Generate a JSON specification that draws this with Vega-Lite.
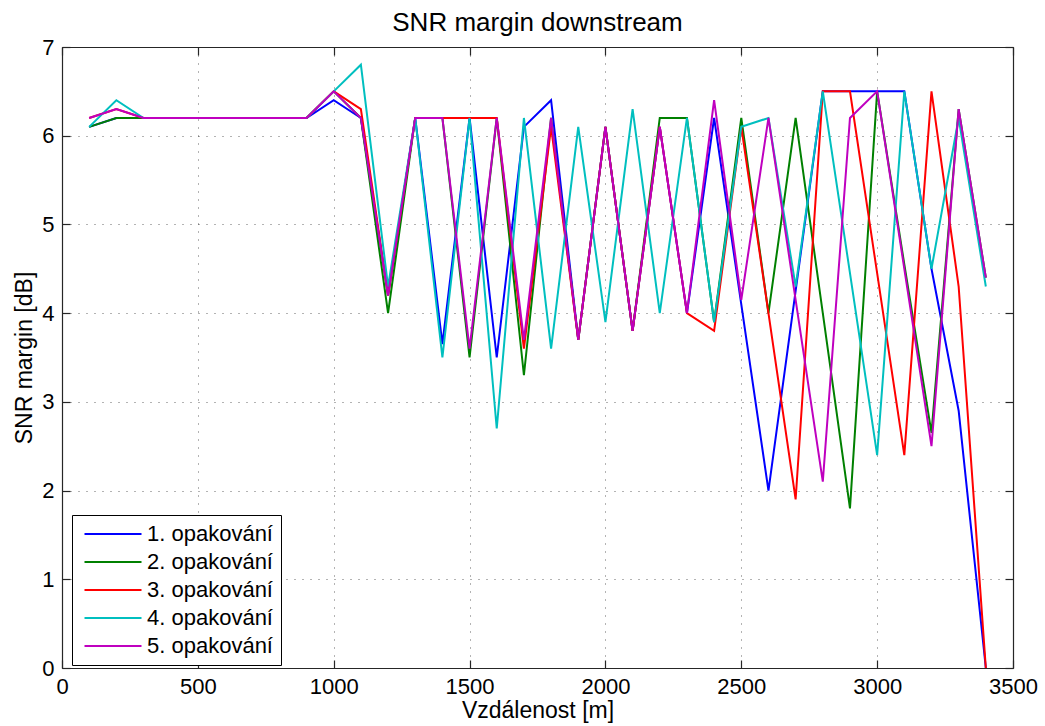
{
  "$schema": "https://vega.github.io/schema/vega-lite/v6.json",
  "autosize": "none",
  "width": 951,
  "height": 621,
  "padding": {"left": 62, "top": 47, "right": 32, "bottom": 58},
  "background": "white",
  "title": {"text": "SNR margin downstream", "fontSize": 26, "font": "Liberation Sans", "fontWeight": "normal", "color": "#000", "anchor": "middle", "frame": "group", "baseline": "alphabetic", "offset": 0, "dy": 21},
  "config": {
    "view": {"stroke": null},
    "axis": {
      "domainColor": "#262626", "domainWidth": 1.2,
      "tickColor": "#262626", "tickSize": -8, "tickWidth": 1.2,
      "labelFont": "Liberation Sans", "labelFontSize": 22, "labelColor": "#000", "labelPadding": 16,
      "labelFlush": false, "labelOverlap": false,
      "titleFont": "Liberation Sans", "titleFontSize": 23, "titleFontWeight": "normal", "titleColor": "#000",
      "gridColor": "#000", "gridDash": [1, 7], "gridOpacity": 0.6, "gridWidth": 1
    }
  },
  "data": {"values": [
    {"s":"1. opakování","x":100,"y":6.1},{"s":"1. opakování","x":200,"y":6.2},{"s":"1. opakování","x":300,"y":6.2},{"s":"1. opakování","x":400,"y":6.2},{"s":"1. opakování","x":500,"y":6.2},{"s":"1. opakování","x":600,"y":6.2},{"s":"1. opakování","x":700,"y":6.2},{"s":"1. opakování","x":800,"y":6.2},{"s":"1. opakování","x":900,"y":6.2},{"s":"1. opakování","x":1000,"y":6.4},{"s":"1. opakování","x":1100,"y":6.2},{"s":"1. opakování","x":1200,"y":4.2},{"s":"1. opakování","x":1300,"y":6.2},{"s":"1. opakování","x":1400,"y":3.65},{"s":"1. opakování","x":1500,"y":6.2},{"s":"1. opakování","x":1600,"y":3.5},{"s":"1. opakování","x":1700,"y":6.1},{"s":"1. opakování","x":1800,"y":6.4},{"s":"1. opakování","x":1900,"y":3.7},{"s":"1. opakování","x":2000,"y":6.1},{"s":"1. opakování","x":2100,"y":3.8},{"s":"1. opakování","x":2200,"y":6.1},{"s":"1. opakování","x":2300,"y":4.0},{"s":"1. opakování","x":2400,"y":6.2},{"s":"1. opakování","x":2500,"y":4.1},{"s":"1. opakování","x":2600,"y":2.0},{"s":"1. opakování","x":2700,"y":4.25},{"s":"1. opakování","x":2800,"y":6.5},{"s":"1. opakování","x":2900,"y":6.5},{"s":"1. opakování","x":3000,"y":6.5},{"s":"1. opakování","x":3100,"y":6.5},{"s":"1. opakování","x":3200,"y":4.5},{"s":"1. opakování","x":3300,"y":2.9},{"s":"1. opakování","x":3400,"y":0},
    {"s":"2. opakování","x":100,"y":6.1},{"s":"2. opakování","x":200,"y":6.2},{"s":"2. opakování","x":300,"y":6.2},{"s":"2. opakování","x":400,"y":6.2},{"s":"2. opakování","x":500,"y":6.2},{"s":"2. opakování","x":600,"y":6.2},{"s":"2. opakování","x":700,"y":6.2},{"s":"2. opakování","x":800,"y":6.2},{"s":"2. opakování","x":900,"y":6.2},{"s":"2. opakování","x":1000,"y":6.5},{"s":"2. opakování","x":1100,"y":6.2},{"s":"2. opakování","x":1200,"y":4.0},{"s":"2. opakování","x":1300,"y":6.2},{"s":"2. opakování","x":1400,"y":6.2},{"s":"2. opakování","x":1500,"y":3.5},{"s":"2. opakování","x":1600,"y":6.2},{"s":"2. opakování","x":1700,"y":3.3},{"s":"2. opakování","x":1800,"y":6.2},{"s":"2. opakování","x":1900,"y":3.7},{"s":"2. opakování","x":2000,"y":6.1},{"s":"2. opakování","x":2100,"y":3.8},{"s":"2. opakování","x":2200,"y":6.2},{"s":"2. opakování","x":2300,"y":6.2},{"s":"2. opakování","x":2400,"y":3.9},{"s":"2. opakování","x":2500,"y":6.2},{"s":"2. opakování","x":2600,"y":4.0},{"s":"2. opakování","x":2700,"y":6.2},{"s":"2. opakování","x":2800,"y":4.0},{"s":"2. opakování","x":2900,"y":1.8},{"s":"2. opakování","x":3000,"y":6.5},{"s":"2. opakování","x":3100,"y":4.55},{"s":"2. opakování","x":3200,"y":2.65},{"s":"2. opakování","x":3300,"y":6.3},{"s":"2. opakování","x":3400,"y":4.4},
    {"s":"3. opakování","x":100,"y":6.2},{"s":"3. opakování","x":200,"y":6.3},{"s":"3. opakování","x":300,"y":6.2},{"s":"3. opakování","x":400,"y":6.2},{"s":"3. opakování","x":500,"y":6.2},{"s":"3. opakování","x":600,"y":6.2},{"s":"3. opakování","x":700,"y":6.2},{"s":"3. opakování","x":800,"y":6.2},{"s":"3. opakování","x":900,"y":6.2},{"s":"3. opakování","x":1000,"y":6.5},{"s":"3. opakování","x":1100,"y":6.3},{"s":"3. opakování","x":1200,"y":4.2},{"s":"3. opakování","x":1300,"y":6.2},{"s":"3. opakování","x":1400,"y":6.2},{"s":"3. opakování","x":1500,"y":6.2},{"s":"3. opakování","x":1600,"y":6.2},{"s":"3. opakování","x":1700,"y":3.6},{"s":"3. opakování","x":1800,"y":6.1},{"s":"3. opakování","x":1900,"y":3.7},{"s":"3. opakování","x":2000,"y":6.1},{"s":"3. opakování","x":2100,"y":3.8},{"s":"3. opakování","x":2200,"y":6.1},{"s":"3. opakování","x":2300,"y":4.0},{"s":"3. opakování","x":2400,"y":3.8},{"s":"3. opakování","x":2500,"y":6.1},{"s":"3. opakování","x":2600,"y":4.0},{"s":"3. opakování","x":2700,"y":1.9},{"s":"3. opakování","x":2800,"y":6.5},{"s":"3. opakování","x":2900,"y":6.5},{"s":"3. opakování","x":3000,"y":4.45},{"s":"3. opakování","x":3100,"y":2.4},{"s":"3. opakování","x":3200,"y":6.5},{"s":"3. opakování","x":3300,"y":4.3},{"s":"3. opakování","x":3400,"y":0},
    {"s":"4. opakování","x":100,"y":6.1},{"s":"4. opakování","x":200,"y":6.4},{"s":"4. opakování","x":300,"y":6.2},{"s":"4. opakování","x":400,"y":6.2},{"s":"4. opakování","x":500,"y":6.2},{"s":"4. opakování","x":600,"y":6.2},{"s":"4. opakování","x":700,"y":6.2},{"s":"4. opakování","x":800,"y":6.2},{"s":"4. opakování","x":900,"y":6.2},{"s":"4. opakování","x":1000,"y":6.5},{"s":"4. opakování","x":1100,"y":6.8},{"s":"4. opakování","x":1200,"y":4.3},{"s":"4. opakování","x":1300,"y":6.2},{"s":"4. opakování","x":1400,"y":3.5},{"s":"4. opakování","x":1500,"y":6.2},{"s":"4. opakování","x":1600,"y":2.7},{"s":"4. opakování","x":1700,"y":6.2},{"s":"4. opakování","x":1800,"y":3.6},{"s":"4. opakování","x":1900,"y":6.1},{"s":"4. opakování","x":2000,"y":3.9},{"s":"4. opakování","x":2100,"y":6.3},{"s":"4. opakování","x":2200,"y":4.0},{"s":"4. opakování","x":2300,"y":6.2},{"s":"4. opakování","x":2400,"y":3.9},{"s":"4. opakování","x":2500,"y":6.1},{"s":"4. opakování","x":2600,"y":6.2},{"s":"4. opakování","x":2700,"y":4.3},{"s":"4. opakování","x":2800,"y":6.5},{"s":"4. opakování","x":2900,"y":4.45},{"s":"4. opakování","x":3000,"y":2.4},{"s":"4. opakování","x":3100,"y":6.5},{"s":"4. opakování","x":3200,"y":4.5},{"s":"4. opakování","x":3300,"y":6.2},{"s":"4. opakování","x":3400,"y":4.3},
    {"s":"5. opakování","x":100,"y":6.2},{"s":"5. opakování","x":200,"y":6.3},{"s":"5. opakování","x":300,"y":6.2},{"s":"5. opakování","x":400,"y":6.2},{"s":"5. opakování","x":500,"y":6.2},{"s":"5. opakování","x":600,"y":6.2},{"s":"5. opakování","x":700,"y":6.2},{"s":"5. opakování","x":800,"y":6.2},{"s":"5. opakování","x":900,"y":6.2},{"s":"5. opakování","x":1000,"y":6.5},{"s":"5. opakování","x":1100,"y":6.2},{"s":"5. opakování","x":1200,"y":4.2},{"s":"5. opakování","x":1300,"y":6.2},{"s":"5. opakování","x":1400,"y":6.2},{"s":"5. opakování","x":1500,"y":3.6},{"s":"5. opakování","x":1600,"y":6.2},{"s":"5. opakování","x":1700,"y":3.7},{"s":"5. opakování","x":1800,"y":6.2},{"s":"5. opakování","x":1900,"y":3.7},{"s":"5. opakování","x":2000,"y":6.1},{"s":"5. opakování","x":2100,"y":3.8},{"s":"5. opakování","x":2200,"y":6.1},{"s":"5. opakování","x":2300,"y":4.0},{"s":"5. opakování","x":2400,"y":6.4},{"s":"5. opakování","x":2500,"y":4.15},{"s":"5. opakování","x":2600,"y":6.2},{"s":"5. opakování","x":2700,"y":4.15},{"s":"5. opakování","x":2800,"y":2.1},{"s":"5. opakování","x":2900,"y":6.2},{"s":"5. opakování","x":3000,"y":6.5},{"s":"5. opakování","x":3100,"y":4.5},{"s":"5. opakování","x":3200,"y":2.5},{"s":"5. opakování","x":3300,"y":6.3},{"s":"5. opakování","x":3400,"y":4.4}
  ]},
  "layer": [
    {
      "mark": {"type": "line", "strokeWidth": 2},
      "encoding": {
        "x": {"field": "x", "type": "quantitative",
              "scale": {"domain": [0, 3500], "nice": false, "zero": false},
              "axis": {"orient": "bottom", "title": "Vzdálenost [m]", "format": "d", "values": [0, 500, 1000, 1500, 2000, 2500, 3000, 3500], "grid": true, "titlePadding": 2}},
        "y": {"field": "y", "type": "quantitative",
              "scale": {"domain": [0, 7], "nice": false},
              "axis": {"orient": "left", "title": "SNR margin [dB]", "format": "d", "values": [0, 1, 2, 3, 4, 5, 6, 7], "grid": true, "titlePadding": 5}},
        "color": {"field": "s", "type": "nominal",
                  "scale": {"domain": ["1. opakování", "2. opakování", "3. opakování", "4. opakování", "5. opakování"],
                            "range": ["#0000ff", "#008000", "#ff0000", "#00bfbf", "#bf00bf"]},
                  "legend": {"orient": "none", "legendX": 10, "legendY": 468, "title": null,
                             "symbolType": "M-3,0H3", "symbolSize": 361, "symbolStrokeWidth": 2,
                             "symbolOffset": 22, "labelOffset": 23,
                             "labelFont": "Liberation Sans", "labelFontSize": 22, "labelColor": "#000", "labelLimit": 0,
                             "rowPadding": 6, "padding": 8, "fillColor": "white", "strokeColor": "#000"}}
      }
    },
    {
      "mark": {"type": "point", "opacity": 0},
      "encoding": {
        "x": {"field": "x", "type": "quantitative",
              "axis": {"orient": "top", "title": null, "labels": false, "grid": false, "values": [0, 500, 1000, 1500, 2000, 2500, 3000, 3500]}},
        "y": {"field": "y", "type": "quantitative",
              "axis": {"orient": "right", "title": null, "labels": false, "grid": false, "values": [0, 1, 2, 3, 4, 5, 6, 7]}}
      }
    }
  ],
  "resolve": {"axis": {"x": "independent", "y": "independent"}}
}
